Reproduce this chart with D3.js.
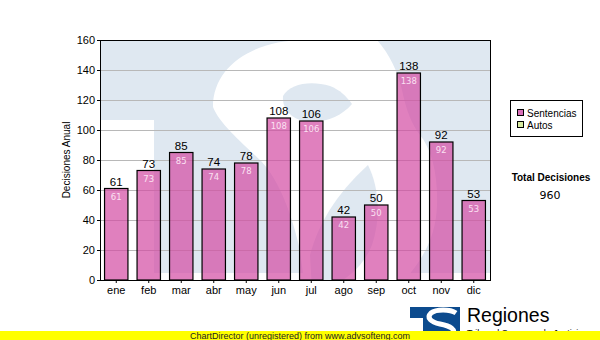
<!DOCTYPE html>
<html lang="es">
  <head>
    <meta charset="utf-8">
    <title>Decisiones Anual</title>
    <script src="https://d3js.org/d3.v7.min.js"></script>
    <style>
      body { margin: 0; background: #fff; }
      text { font-family: "Liberation Sans", Arial, sans-serif; }
    </style>
  </head>
  <body>
    <div id="chart"></div>
    <script>
      // data
      var months = ["ene", "feb", "mar", "abr", "may", "jun", "jul", "ago", "sep", "oct", "nov", "dic"];
      var sentencias = [61, 73, 85, 74, 78, 108, 106, 42, 50, 138, 92, 53];
      var yTicks = [0, 20, 40, 60, 80, 100, 120, 140, 160];
      var legendNames = ["Sentencias", "Autos"];
      var legendColors = ["#d96fb8", "#d8eba0"];
      var totalLabel = "Total Decisiones";
      var totalValue = 960;

      var w = 600, h = 340;
      var margin = {top: 40, right: 110, bottom: 60, left: 100};
      var innerWidth = w - margin.left - margin.right;
      var innerHeight = h - margin.top - margin.bottom;

      var svg = d3.select("#chart").append("svg")
        .attr("width", w)
        .attr("height", h);

      var xScale = d3.scaleBand()
        .domain(months)
        .range([margin.left, margin.left + innerWidth])
        .paddingInner(0.28)
        .paddingOuter(0.14);

      var yScale = d3.scaleLinear()
        .domain([0, 160])
        .range([margin.top + innerHeight, margin.top]);

      // faded logo in the plot background
      svg.append("clipPath").attr("id", "plotclip")
        .append("rect")
          .attr("x", margin.left)
          .attr("y", margin.top)
          .attr("width", innerWidth)
          .attr("height", innerHeight);

      var WM_BLUE = "#dfe8f1";
      var wm = svg.append("g").attr("clip-path", "url(#plotclip)");
      wm.append("path")   // the T block
        .attr("d", "M100,40 H490 V273 H154 V120 H100 Z")
        .attr("fill", WM_BLUE);
      wm.append("path")   // S body
        .attr("d", "M213,107 C213,65 255,40 305,40 L377,40 C390,55 398,72 402,90 " +
                   "C406,110 412,125 420,135 C432,150 438,175 437,205 C436,240 420,265 395,290 " +
                   "L305,290 L300,250 C292,215 280,182 262,162 C245,145 220,125 213,107 Z")
        .attr("fill", "#fff");
      wm.append("path")   // upper counter
        .attr("d", "M283,96 C290,84 310,80 330,86 C340,90 346,96 352,104 " +
                   "C340,118 320,125 300,120 C288,116 282,106 283,96 Z")
        .attr("fill", WM_BLUE);
      wm.append("path")   // lower counter
        .attr("d", "M368,165 C378,185 382,215 372,245 C362,270 340,285 320,290 " +
                   "L312,290 L310,255 C318,225 335,195 368,165 Z")
        .attr("fill", WM_BLUE);

      // grid lines
      svg.append("g").selectAll("line")
        .data(yTicks.slice(1, -1))
        .join("line")
          .attr("x1", margin.left)
          .attr("x2", margin.left + innerWidth)
          .attr("y1", function(d) { return yScale(d) + 0.5; })
          .attr("y2", function(d) { return yScale(d) + 0.5; })
          .attr("stroke", "#b8b8b8")
          .attr("stroke-width", 1);

      // bars
      svg.append("g").selectAll("rect")
        .data(sentencias)
        .join("rect")
          .attr("x", function(d, i) { return xScale(months[i]); })
          .attr("y", function(d) { return yScale(d); })
          .attr("width", xScale.bandwidth())
          .attr("height", function(d) { return yScale(0) - yScale(d); })
          .attr("fill", "rgb(211,74,162)")
          .attr("fill-opacity", 0.7)
          .attr("stroke", "#000")
          .attr("stroke-width", 1.2);

      // value labels above
      svg.append("g").selectAll("text")
        .data(sentencias)
        .join("text")
          .attr("x", function(d, i) { return xScale(months[i]) + xScale.bandwidth() / 2; })
          .attr("y", function(d) { return yScale(d) - 3; })
          .attr("text-anchor", "middle")
          .style("font-size", "11.5px")
          .attr("fill", "#000")
          .text(function(d) { return d; });

      // value labels inside
      svg.append("g").selectAll("text")
        .data(sentencias)
        .join("text")
          .attr("x", function(d, i) { return xScale(months[i]) + xScale.bandwidth() / 2; })
          .attr("y", function(d) { return yScale(d) + 11; })
          .attr("text-anchor", "middle")
          .style("font-family", "'DejaVu Sans', Verdana, sans-serif")
          .style("font-size", "8.5px")
          .attr("fill", "#fbe0f2")
          .text(function(d) { return d; });

      // axes
      var yAxis = d3.axisLeft(yScale).tickValues(yTicks).tickSize(3).tickPadding(2);
      var gy = svg.append("g")
        .attr("transform", "translate(" + margin.left + ",0)")
        .call(yAxis);
      gy.selectAll("text").style("font-size", "11px").attr("fill", "#000");

      var xAxis = d3.axisBottom(xScale).tickSize(3).tickPadding(3);
      var gx = svg.append("g")
        .attr("transform", "translate(0," + (margin.top + innerHeight) + ")")
        .call(xAxis);
      gx.selectAll("text").style("font-size", "11px").attr("fill", "#000");
      gx.select(".domain").remove();
      gy.select(".domain").remove();

      // plot border
      svg.append("rect")
        .attr("x", margin.left + 0.5)
        .attr("y", margin.top + 0.5)
        .attr("width", innerWidth)
        .attr("height", innerHeight)
        .attr("fill", "none")
        .attr("stroke", "#000")
        .attr("stroke-width", 1);

      svg.append("text")
        .text("Decisiones Anual")
        .attr("transform", "translate(70," + (margin.top + innerHeight / 2) + ") rotate(-90)")
        .attr("text-anchor", "middle")
        .style("font-size", "10px");

      // legend
      var legend = svg.append("g");
      legend.append("rect")
        .attr("x", 510.5).attr("y", 100.5)
        .attr("width", 72).attr("height", 36)
        .attr("fill", "#fff")
        .attr("stroke", "#000");
      legendNames.forEach(function(name, i) {
        legend.append("rect")
          .attr("x", 517.5).attr("y", 109.5 + i * 12)
          .attr("width", 6).attr("height", 6)
          .attr("fill", legendColors[i])
          .attr("stroke", "#000");
        legend.append("text")
          .attr("x", 527).attr("y", 117 + i * 12)
          .style("font-size", "10px")
          .text(name);
      });

      svg.append("text")
        .text(totalLabel)
        .attr("x", 551).attr("y", 181)
        .attr("text-anchor", "middle")
        .style("font-size", "10px")
        .style("font-weight", "bold");
      svg.append("text")
        .text(totalValue)
        .attr("x", 550).attr("y", 199)
        .attr("text-anchor", "middle")
        .style("font-family", "'DejaVu Sans', Verdana, sans-serif")
        .style("font-size", "11px");

      // bottom logo
      svg.append("path")
        .attr("d", "M410,307 H460 V340 H423 V318 H410 Z")
        .attr("fill", "#0c4b8e");
      svg.append("path")
        .attr("d", "M456,313 C450,309 436,309 431,313 C426,318 431,322 440,324 C450,326 457,329 452,336")
        .attr("fill", "none")
        .attr("stroke", "#fff")
        .attr("stroke-width", 5);
      svg.append("text")
        .text("Regiones")
        .attr("x", 467).attr("y", 322)
        .style("font-size", "19.5px")
        .attr("fill", "#000");
      svg.append("text")
        .text("Tribunal Supremo de Justicia")
        .attr("x", 467).attr("y", 336)
        .style("font-size", "9px")
        .attr("fill", "#000");

      // unregistered banner
      svg.append("rect")
        .attr("x", 0).attr("y", 331)
        .attr("width", w).attr("height", 9)
        .attr("fill", "#ffff00");
      svg.append("text")
        .text("ChartDirector (unregistered) from www.advsofteng.com")
        .attr("x", 300).attr("y", 339)
        .attr("text-anchor", "middle")
        .style("font-size", "9px")
        .attr("fill", "#222");
    </script>
  </body>
</html>
